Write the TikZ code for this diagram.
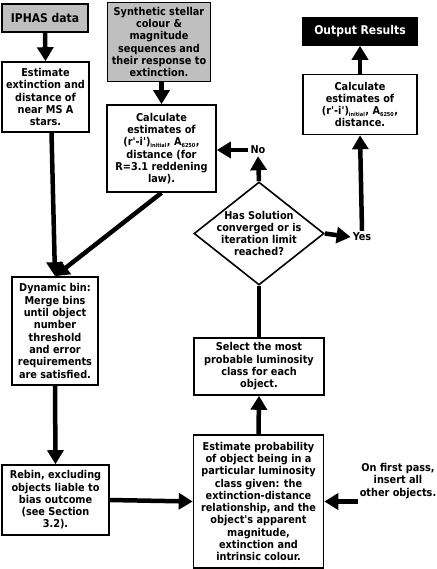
\documentclass[tikz,border=0pt]{standalone}
\usepackage{fontspec}
\setmainfont{DejaVu Sans Condensed}
\usetikzlibrary{positioning, arrows.meta, shapes.geometric}

\newcommand{\bodyfont}{\fontsize{10.8}{12.3}\selectfont\bfseries}
\newcommand{\headfont}{\fontsize{12}{13}\selectfont\bfseries}
\newcommand{\sml}[1]{\textsubscript{\fontsize{5.5}{6}\selectfont #1}}
\newcommand{\q}{\textquotesingle}

\tikzset{
  box/.style={draw, line width=1.6pt, fill=white, align=center, inner sep=1pt, font=\bodyfont},
  srcbox/.style={box, fill=black!25},
  decision/.style={diamond, draw, line width=1.6pt, fill=white, align=center, inner sep=-8pt, font=\bodyfont},
  lbl/.style={font=\bodyfont, align=center, inner sep=2pt},
  flow/.style={line width=4.5pt, -{Triangle[length=14pt,width=16pt]}},
}

\begin{document}
\begin{tikzpicture}[x=1pt, y=-1pt]
  \useasboundingbox (0,0) rectangle (436,569);

  % inputs
  \node[srcbox, font=\headfont, minimum width=86pt, minimum height=28pt] (iphas) at (45,18) {IPHAS data};
  \node[srcbox, minimum width=103pt, minimum height=79pt] (synth) at (159,42)
    {Synthetic stellar\\colour \&\\magnitude\\sequences and\\their response to\\extinction.};

  % left column
  \node[box, minimum width=87pt, minimum height=70pt] (est) at (45.5,97)
    {Estimate\\extinction and\\distance of\\near MS A\\stars.};
  \node[box, minimum width=109pt, minimum height=87pt] (calcL) at (161.5,148.5)
    {Calculate\\estimates of\\(r\q-i\q)\sml{initial}, A\sml{6250},\\distance (for\\R=3.1 reddening\\law).};
  \node[box, minimum width=86pt, minimum height=108pt] (dyn) at (55,331)
    {Dynamic bin:\\Merge bins\\until object\\number\\threshold\\and error\\requirements\\are satisfied.};
  \node[box, minimum width=107pt, minimum height=70pt] (rebin) at (55.5,500)
    {Rebin, excluding\\objects liable to\\bias outcome\\(see Section\\3.2).};

  % iteration
  \node[box, minimum width=130pt, minimum height=133pt] (prob) at (258.5,501.5)
    {Estimate probability\\of object being in a\\particular luminosity\\class given: the\\extinction-distance\\relationship, and the\\object\q s apparent\\magnitude,\\extinction and\\intrinsic colour.};
  \node[box, minimum width=130pt, minimum height=57pt] (select) at (259,366.5)
    {Select the most\\probable luminosity\\class for each\\object.};
  \node[decision, minimum width=130pt, minimum height=103pt] (conv) at (259,233.5)
    {Has Solution\\converged or is\\iteration limit\\reached?};
  \node[lbl] (no) at (258,150) {No};
  \node[lbl] (yes) at (362,237) {Yes};
  \node[lbl] (pass) at (398,481) {On first pass,\\insert all\\other objects.};

  % outputs
  \node[box, minimum width=114pt, minimum height=60pt] (calcR) at (360,104.5)
    {Calculate\\estimates of\\(r\q-i\q)\sml{initial}, A\sml{6250},\\distance.};
  \node[box, fill=black, text=white, font=\headfont, minimum width=114pt, minimum height=27pt] (out) at (360,31.5) {Output Results};

  % flow
  \draw[flow] (iphas.south) -- (est.north);
  \draw[flow] (calcL.north |- synth.south) -- (calcL.north);
  \draw[flow] ([xshift=6pt]est.south) -- (dyn.north);
  \draw[flow] (calcL.south) -- (dyn.north);
  \draw[flow] (dyn.south) -- (rebin.north);
  \draw[flow] (rebin.east) -- (prob.west);
  \draw[flow] (pass.west |- prob.east) -- (prob.east);
  \draw[flow] (prob.north) -- (select.south);
  \draw[line width=4.5pt] (select.north) -- (conv.south);
  \draw[flow] (conv.north) -- (no.south);
  \draw[flow] (no.west) -- (calcL.east |- no.west);
  \draw[flow] (conv.east) -- (yes.west);
  \draw[flow] (yes.north) -- (calcR.south);
  \draw[flow] (calcR.north) -- (out.south);
\end{tikzpicture}
\end{document}
